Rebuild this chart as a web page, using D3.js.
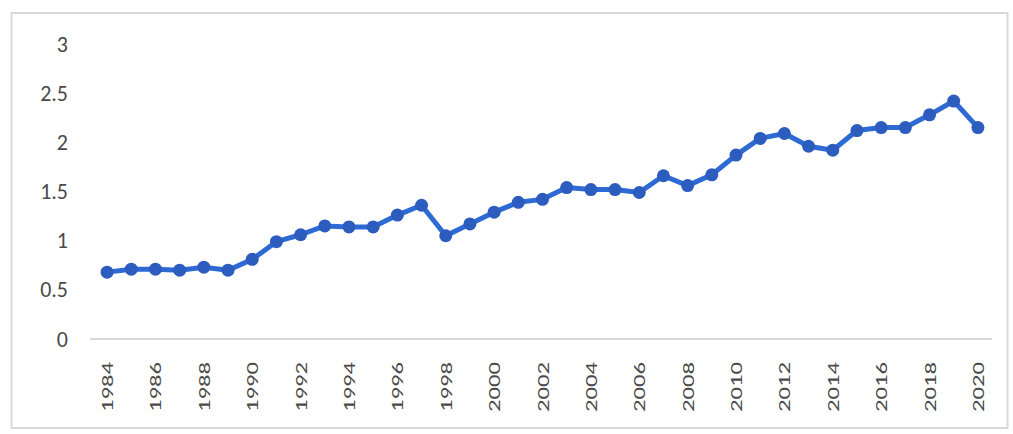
<!DOCTYPE html>
<html>
<head>
<meta charset="utf-8">
<script src="https://cdn.jsdelivr.net/npm/d3@7"></script>
<style>
  body { margin: 0; background: #fff; }
  svg { display: block; font-family: Calibri, "Liberation Sans", Arial, sans-serif; }
</style>
</head>
<body>
<div id="chart"></div>
<script>
// Data
const years = d3.range(1984, 2021);
const values = [
    0.68, 0.71, 0.71, 0.70, 0.73, 0.70, 0.81, 0.99, 1.06, 1.15,
    1.14, 1.14, 1.26, 1.36, 1.05, 1.17, 1.29, 1.39, 1.42, 1.54,
    1.52, 1.52, 1.49, 1.66, 1.56, 1.67, 1.87, 2.04, 2.09, 1.96,
    1.92, 2.12, 2.15, 2.15, 2.28, 2.42, 2.15
];
const yTicks = [0, 0.5, 1, 1.5, 2, 2.5, 3];
const xLabels = years.filter(y => y % 2 === 0);

const width = 1013, height = 434;
const plot = { left: 95, right: 990, top: 44, bottom: 339 };

const svg = d3.select("#chart").append("svg")
    .attr("width", width)
    .attr("height", height);

// Outer chart frame
svg.append("rect")
    .attr("x", 11.5).attr("y", 13)
    .attr("width", 996).attr("height", 415)
    .attr("fill", "#fff")
    .attr("stroke", "#d9d9d9")
    .attr("stroke-width", 2);

// Scales
const x = d3.scaleBand()
    .domain(years)
    .range([plot.left, plot.right]);

const y = d3.scaleLinear()
    .domain([0, 3])
    .range([plot.bottom, plot.top]);

const cx = d => x(d) + x.bandwidth() / 2;

// Y axis labels
const yAxis = svg.append("g")
    .attr("transform", `translate(${68},0)`)
    .call(d3.axisLeft(y).tickValues(yTicks).tickSize(0).tickPadding(0)
        .tickFormat(d3.format("")));
yAxis.select(".domain").remove();
yAxis.selectAll("text")
    .attr("font-size", 22)
    .attr("fill", "#4a4a4a")
    .style("font-family", "Calibri, 'Liberation Sans', Arial, sans-serif");

// X axis baseline
svg.append("line")
    .attr("x1", plot.left - 5).attr("x2", plot.right + 2)
    .attr("y1", y(0)).attr("y2", y(0))
    .attr("stroke", "#d9d9d9")
    .attr("stroke-width", 2);

// X axis labels, rotated
svg.append("g")
    .selectAll("text")
    .data(xLabels)
    .join("text")
    .attr("transform", d => `translate(${cx(d) + 6},362) rotate(-90)`)
    .attr("text-anchor", "end")
    .attr("font-size", 17)
    .attr("fill", "#4a4a4a")
    .attr("textLength", 50)
    .attr("lengthAdjust", "spacingAndGlyphs")
    .text(d => d);

// Line
const line = d3.line()
    .x((d, i) => cx(years[i]))
    .y(d => y(d));

svg.append("path")
    .datum(values)
    .attr("fill", "none")
    .attr("stroke", "#2e6ad4")
    .attr("stroke-width", 5)
    .attr("stroke-linejoin", "round")
    .attr("d", line);

// Markers
svg.append("g")
    .selectAll("circle")
    .data(values)
    .join("circle")
    .attr("cx", (d, i) => cx(years[i]))
    .attr("cy", d => y(d))
    .attr("r", 6.5)
    .attr("fill", "#2d5cbf");
</script>
</body>
</html>
